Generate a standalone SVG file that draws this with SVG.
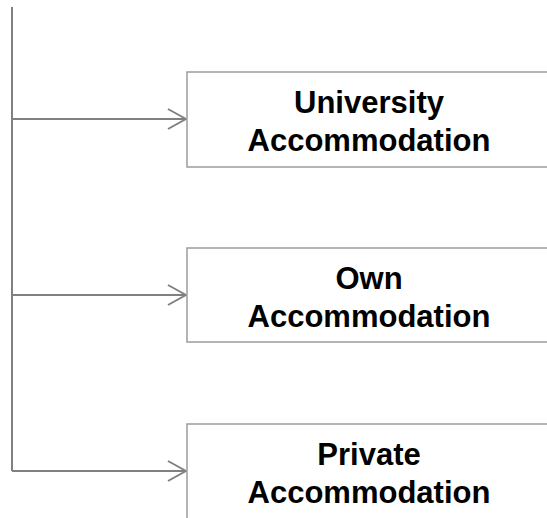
<svg xmlns="http://www.w3.org/2000/svg" width="547" height="518" viewBox="0 0 547 518">
  <style>
    .box { fill: #ffffff; stroke: #9c9c9c; stroke-width: 1.5; }
    .label { font-family: "Liberation Sans", Arial, sans-serif; font-weight: bold; font-size: 31px; fill: #000000; text-anchor: middle; }
    .conn { fill: none; stroke: #808080; stroke-width: 2; }
  </style>
  <defs>
    <marker id="open-arrow" viewBox="0 0 20 22" refX="19" refY="11" markerWidth="20" markerHeight="22" markerUnits="userSpaceOnUse" orient="auto">
      <path d="M1,1 L19,11 L1,21" fill="none" stroke="#808080" stroke-width="2"/>
    </marker>
  </defs>
  <rect width="547" height="518" fill="#ffffff"/>

  <g id="connectors">
    <path class="conn" d="M12,7 V471"/>
    <path class="conn" d="M12,119 H186" marker-end="url(#open-arrow)"/>
    <path class="conn" d="M12,295 H186" marker-end="url(#open-arrow)"/>
    <path class="conn" d="M12,471 H186" marker-end="url(#open-arrow)"/>
  </g>

  <g id="university">
    <rect class="box" x="187" y="72" width="364" height="95"/>
    <text class="label" x="369" y="112.5">University</text>
    <text class="label" x="369" y="150.5">Accommodation</text>
  </g>

  <g id="own">
    <rect class="box" x="187" y="248" width="364" height="94"/>
    <text class="label" x="369" y="288.5">Own</text>
    <text class="label" x="369" y="326.5">Accommodation</text>
  </g>

  <g id="private">
    <rect class="box" x="187" y="424" width="364" height="120"/>
    <text class="label" x="369" y="464.5">Private</text>
    <text class="label" x="369" y="502.5">Accommodation</text>
  </g>
</svg>
